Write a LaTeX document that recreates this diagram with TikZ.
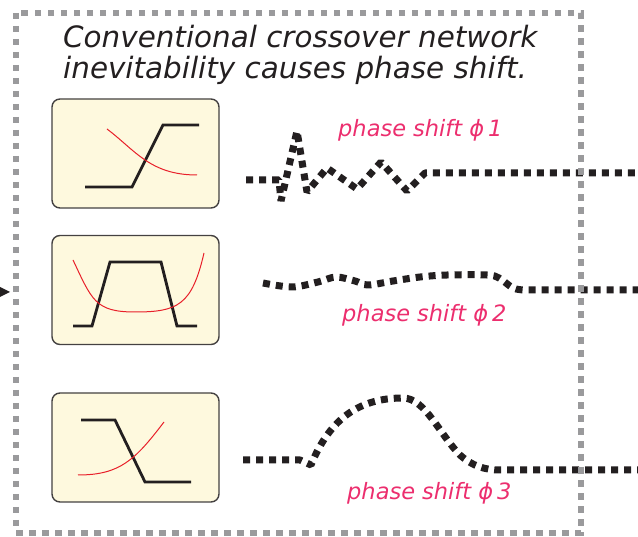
\documentclass[tikz,border=0pt]{standalone}
\usepackage{fontspec}
\setmainfont{DejaVu Sans}
\definecolor{framegray}{HTML}{9A9A9C}
\definecolor{ink}{HTML}{231F20}
\definecolor{cream}{HTML}{FEF9DE}
\definecolor{pinktext}{HTML}{EC2E6E}
\definecolor{curvered}{HTML}{E8202A}
\begin{document}
\begin{tikzpicture}[x=1pt,y=-1pt,
  filterbox/.style={draw=ink!85, line width=1.4pt, fill=cream, rounded corners=8pt,
    minimum width=167pt, minimum height=109pt, inner sep=0pt},
  response/.style={ink, line width=2.8pt},
  phasecurve/.style={curvered, line width=1pt},
  signal/.style={ink, line width=7pt, line join=bevel, dash pattern=on 7pt off 6pt},
  frame/.style={framegray, line width=6pt, dash pattern=on 6.5pt off 6.5pt},
  heading/.style={anchor=base west, inner sep=0pt,
    font=\fontsize{29.4}{30}\selectfont\itshape, text=ink},
  shiftlabel/.style={anchor=base west, inner sep=0pt,
    font=\fontsize{22.5}{24}\selectfont\itshape, text=pinktext}]
\useasboundingbox (0,0) rectangle (638,537);

% heading
\node[heading] (head1) at (63,48) {Conventional crossover network};
\node[heading] (head2) at (63,79) {inevitability causes phase shift.};

% filter boxes
\node[filterbox] (hp) at (135.5,153.5) {};
\node[filterbox] (bp) at (135.5,290) {};
\node[filterbox] (lp) at (135.5,447.5) {};

% high-pass response
\draw[response] (85,187) -- (132,187) -- (163,125) -- (199,125);
\draw[phasecurve] (107,129) .. controls (135,150) and (150,175) .. (197,175);

% band-pass response
\draw[response] (73,326) -- (92,326) -- (110,262) -- (161,262) -- (177,326) -- (197,326);
\draw[phasecurve] (73,260) .. controls (92,300) and (95,312) .. (135,312)
  .. controls (178,312) and (192,305) .. (204,253);

% low-pass response
\draw[response] (81,420) -- (115,420) -- (145,482) -- (191,482);
\draw[phasecurve] (78,475) .. controls (120,475) and (135,460) .. (164,422);

% output signals with their phase shifts
\coordinate (s1a) at (246,180);
\coordinate (s1b) at (638,173);
\draw[signal] (s1a) -- (279,180) -- (281,201) -- (297,131) -- (307,192) -- (327,168)
  -- (357,189) -- (381,162) -- (407,191) -- (425,173) -- (s1b);

\coordinate (s2a) at (263,283);
\coordinate (s2b) at (638,290);
\draw[signal] plot[smooth, tension=0.55] coordinates {(s2a) (292,287) (318,282) (336,277)
  (355,281) (368,285) (393,281) (420,277) (447,275) (487,275) (499,278) (513,288) (524,290)}
  -- (s2b);

\coordinate (s3a) at (243,460);
\coordinate (s3b) at (638,470);
\draw[signal] (s3a) -- (300,460) -- (311,465)
  .. controls (330,418) and (360,398) .. (403,398)
  .. controls (425,398) and (440,435) .. (460,455)
  .. controls (472,466) and (485,470) .. (500,470) -- (s3b);

\node[shiftlabel] (ph1) at (338,137) {phase shift ϕ\hspace{4pt}1};
\node[shiftlabel] (ph2) at (342,322) {phase shift ϕ\hspace{4pt}2};
\node[shiftlabel] (ph3) at (347,500) {phase shift ϕ\hspace{4pt}3};

% dotted enclosure
\draw[frame] (16,13) rectangle (581,533);

% incoming arrowhead
\fill[ink] (0,287) -- (10,292) -- (0,297) -- cycle;
\end{tikzpicture}
\end{document}
